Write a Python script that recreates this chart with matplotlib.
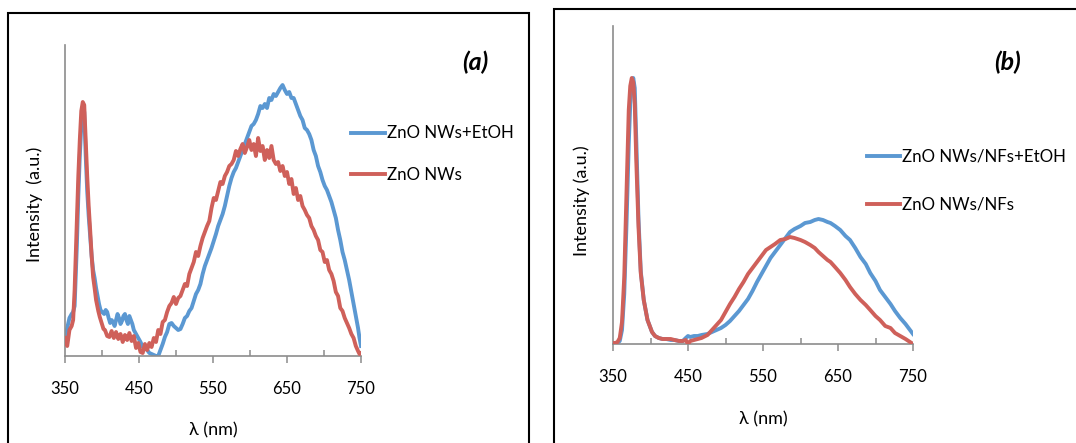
import matplotlib
matplotlib.use("Agg")
import matplotlib.pyplot as plt
from matplotlib.patches import Rectangle
from matplotlib.ticker import MultipleLocator

plt.rcParams['font.family'] = ['Lato', 'DejaVu Sans']

# ---- panel (a) data (intensity in a.u.) ----
wl_a_red = [350, 353, 356, 359, 361, 363, 366, 368, 370, 372, 374, 376, 378, 380, 382, 384, 386, 388, 390, 392,
            395, 397, 400, 402, 404, 407, 410, 413, 416, 419, 422, 425, 428, 431, 434, 437, 440, 443, 446, 449,
            452, 455, 458, 461, 464, 467, 470, 473, 476, 479, 482, 485, 488, 491, 494, 497, 500, 503, 506, 509,
            512, 515, 518, 521, 524, 527, 530, 533, 536, 539, 542, 545, 548, 551, 554, 557, 560, 563, 566, 569,
            572, 575, 578, 581, 584, 587, 590, 593, 596, 599, 602, 605, 608, 611, 614, 617, 620, 623, 626, 629,
            632, 635, 638, 641, 644, 647, 650, 653, 656, 659, 662, 665, 668, 671, 674, 677, 680, 683, 686, 689,
            692, 695, 698, 701, 704, 707, 710, 713, 716, 719, 722, 725, 728, 731, 734, 737, 740, 743, 746, 748, 750]
int_a_red = [18, 10, 26, 30, 36, 66, 133, 180, 216, 245, 254, 251, 216, 180, 150, 126, 100, 79, 68, 56,
             45, 39, 32, 27, 26, 20, 19, 25, 18, 24, 17, 22, 14, 21, 16, 23, 15, 20, 8, 13,
             4, 3, 12, 6, 13, 9, 18, 14, 26, 22, 34, 36, 44, 50, 53, 59, 52, 58, 60, 66,
             72, 70, 82, 88, 94, 104, 100, 110, 118, 124, 130, 135, 148, 158, 156, 165, 174, 172, 180, 184,
             190, 192, 196, 205, 200, 207, 212, 203, 209, 216, 206, 212, 200, 218, 205, 210, 196, 206, 198, 210,
             196, 192, 194, 185, 190, 180, 184, 172, 177, 162, 168, 156, 160, 150, 146, 141, 138, 130, 126, 120,
             116, 106, 104, 94, 96, 86, 82, 75, 64, 60, 48, 45, 38, 33, 28, 22, 18, 10, 5, 2, 3]

wl_a_blue = [350, 353, 356, 359, 361, 363, 366, 368, 370, 372, 374, 376, 378, 380, 382, 384, 386, 388, 390, 392,
             394, 396, 398, 400, 403, 405, 407, 409, 411, 413, 415, 417, 419, 421, 423, 425, 427, 429, 431, 433,
             435, 437, 439, 441, 443, 446, 449, 452, 455, 458, 461, 464, 467, 470, 473, 476, 479, 482, 485, 488,
             491, 494, 497, 500, 503, 506, 509, 512, 515, 518, 521, 524, 527, 530, 533, 536, 539, 542, 545, 548,
             551, 554, 557, 560, 563, 566, 569, 572, 575, 578, 581, 584, 587, 590, 593, 596, 599, 602, 605, 608,
             611, 614, 617, 620, 623, 626, 629, 632, 635, 638, 641, 644, 647, 650, 653, 656, 659, 662, 665, 668,
             671, 674, 677, 680, 683, 686, 689, 692, 695, 698, 701, 704, 707, 710, 713, 716, 719, 722, 725, 728,
             731, 734, 737, 740, 743, 746, 748, 750]
int_a_blue = [19, 28, 38, 42, 44, 50, 110, 160, 200, 230, 248, 244, 200, 165, 140, 120, 100, 86, 78, 68,
              60, 52, 46, 44, 42, 46, 44, 38, 33, 36, 34, 30, 36, 42, 38, 32, 35, 40, 42, 36,
              32, 40, 36, 32, 26, 22, 18, 14, 9, 8, 6, 3, 2, 1, 0, 0, 6, 12, 19, 24,
              32, 33, 30, 28, 26, 27, 32, 38, 40, 45, 48, 55, 62, 66, 72, 82, 90, 96, 102, 108,
              115, 122, 130, 136, 142, 150, 160, 170, 178, 184, 188, 194, 200, 206, 212, 218, 224, 230, 232, 236,
              242, 250, 248, 252, 248, 258, 256, 262, 260, 264, 268, 271, 266, 262, 264, 258, 258, 252, 246, 240,
              236, 228, 226, 222, 216, 206, 200, 190, 184, 176, 170, 166, 160, 154, 146, 138, 126, 116, 104, 96,
              86, 76, 64, 52, 40, 28, 18, 10]

# ---- panel (b) data ----
wl_b = [350, 353, 356, 359, 362, 365, 368, 371, 373, 375, 377, 379, 381, 384, 387, 391, 396, 402, 406, 411,
        416, 421, 427, 432, 438, 443, 447, 450, 453, 458, 463, 468, 476, 482, 488, 494, 500, 506, 512, 518,
        524, 530, 536, 542, 548, 554, 560, 566, 573, 580, 586, 592, 600, 606, 613, 619, 624, 630, 636, 640,
        646, 653, 660, 666, 673, 680, 687, 693, 700, 706, 713, 720, 726, 733, 740, 746, 750]
int_b_red = [1, 1, 2, 6, 22, 67, 151, 234, 258, 266, 262, 240, 184, 117, 71, 44, 24, 12, 8, 6,
             5, 5, 5, 4, 3, 3, 4, 0, 3, 4, 5, 6, 9, 14, 19, 24, 32, 40, 47, 55,
             62, 70, 76, 82, 88, 94, 97, 100, 104, 105, 107, 106, 104, 102, 99, 96, 92, 88, 84, 82,
             77, 71, 64, 57, 50, 44, 39, 34, 28, 24, 18, 16, 11, 8, 5, 2, 0]
int_b_blue = [0, 1, 1, 3, 14, 50, 120, 200, 240, 258, 266, 256, 205, 125, 73, 44, 24, 12, 8, 6,
              5, 5, 4, 4, 3, 3, 6, 8, 7, 8, 8, 9, 10, 12, 14, 16, 19, 23, 28, 33,
              39, 45, 53, 62, 70, 78, 86, 92, 99, 106, 112, 115, 118, 121, 122, 124, 125, 124, 122, 121,
              118, 114, 108, 104, 96, 87, 80, 71, 63, 54, 47, 40, 33, 26, 20, 14, 10]

labels_a = ["ZnO NWs+EtOH", "ZnO NWs"]
labels_b = ["ZnO NWs/NFs+EtOH", "ZnO NWs/NFs"]
ylabel_a = "Intensity  (a.u.)"
ylabel_b = "Intensity (a.u.)"
xticks = [350, 450, 550, 650, 750]

blue = "#5B98D2"
red = "#CF605A"
grey = "#8C8C8C"

W, H = 1076, 443
fig = plt.figure(figsize=(W / 100, H / 100), dpi=100)

# panel borders (figure pixels)
fig.patches.append(Rectangle((7.5 / W, -0.1), (529 - 7.5) / W, 1.1 - 12.7 / H, transform=fig.transFigure,
                             fill=False, ec="black", lw=1.5))
fig.patches.append(Rectangle((553.7 / W, -0.1), 0.6, 1.1 - 9.2 / H, transform=fig.transFigure,
                             fill=False, ec="black", lw=1.5))

ax_a = fig.add_axes([65 / W, (H - 356) / H, (361 - 65) / W, (356 - 44.5) / H])
ax_b = fig.add_axes([613 / W, (H - 344) / H, (913 - 613) / W, (344 - 25.7) / H])


def style(ax, ymax, ylabel, ylab_xy, xlab_y):
    ax.set_xlim(350, 750)
    ax.set_ylim(0, ymax)
    for s in ["top", "right"]:
        ax.spines[s].set_visible(False)
    for s in ["left", "bottom"]:
        ax.spines[s].set_color(grey)
        ax.spines[s].set_linewidth(1.2)
    ax.set_yticks([])
    ax.set_xticks(xticks)
    ax.xaxis.set_minor_locator(MultipleLocator(50))
    ax.tick_params(axis="x", which="major", direction="out", length=5, width=1.1, color=grey,
                   labelsize=12, pad=13)
    ax.tick_params(axis="x", which="minor", direction="in", length=4, width=1.1, color=grey)
    ax.set_xlabel("λ (nm)", fontsize=13)
    ax.xaxis.set_label_coords(0.5, xlab_y)
    ax.set_ylabel(ylabel, fontsize=13)
    ax.yaxis.set_label_coords(*ylab_xy)
    ax.set_facecolor("none")


ax_a.plot(wl_a_blue, int_a_blue, color=blue, lw=2.8, label=labels_a[0], zorder=2)
ax_a.plot(wl_a_red, int_a_red, color=red, lw=2.8, label=labels_a[1], zorder=3)
style(ax_a, 311.5, ylabel_a, (-0.074, 0.488), -0.213)
ax_a.legend(loc="upper left", bbox_to_anchor=(351 / W, (H - 125.5) / H), bbox_transform=fig.transFigure,
            frameon=False, fontsize=12.2, handlelength=2.0, handletextpad=0.12, labelspacing=1.5,
            borderpad=0, borderaxespad=0)
fig.text(475 / W, (H - 62) / H, "(a)", fontsize=18, fontweight="bold", style="italic",
         ha="center", va="center")

ax_b.plot(wl_b, int_b_blue, color=blue, lw=2.8, label=labels_b[0], zorder=2)
ax_b.plot(wl_b, int_b_red, color=red, lw=2.8, label=labels_b[1], zorder=3)
style(ax_b, 318.3, ylabel_b, (-0.077, 0.45), -0.21)
ax_b.legend(loc="upper left", bbox_to_anchor=(867 / W, (H - 148.5) / H), bbox_transform=fig.transFigure,
            frameon=False, fontsize=12.2, handlelength=1.95, handletextpad=0.12, labelspacing=1.9,
            borderpad=0, borderaxespad=0)
fig.text(1008 / W, (H - 62) / H, "(b)", fontsize=18, fontweight="bold", style="italic",
         ha="center", va="center")

fig.savefig("out.png", dpi=100)
